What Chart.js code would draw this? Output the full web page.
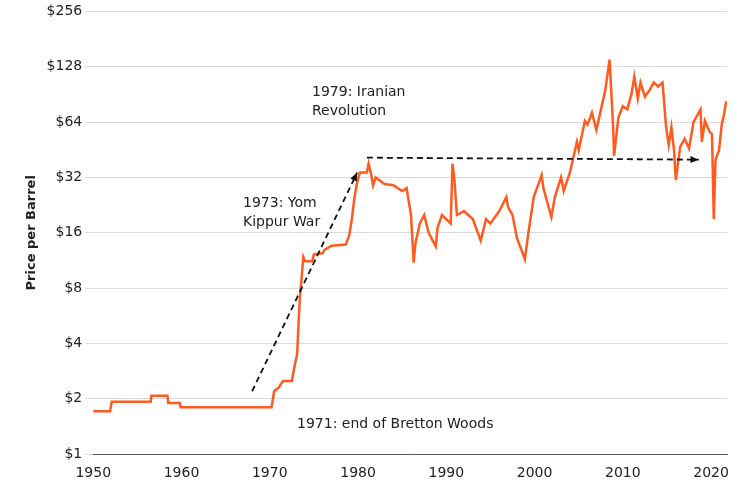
<!DOCTYPE html>
<html>
<head>
<meta charset="utf-8">
<script src="https://cdn.jsdelivr.net/npm/chart.js@4"></script>
<style>
  html, body { margin: 0; padding: 0; background: #fff; }
  #wrap { width: 741px; height: 489px; }
</style>
</head>
<body>
<div id="wrap"><canvas id="oilChart"></canvas></div>
<script>
// oil price per barrel (year, dollars)
const years = [1950,1951.9,1952.1,1956.5,1956.6,1958.4,1958.5,1959.8,1959.9,1970.2,1970.5,1971,1971.5,1972.5,1972.8,1973.1,1973.25,1973.4,1973.6,1973.8,1974,1974.8,1975,1976,1976.2,1977,1978.6,1979,1979.3,1979.6,1979.9,1980.2,1981,1981.2,1981.5,1981.7,1982,1983,1984,1985,1985.5,1986,1986.3,1986.5,1987,1987.5,1988,1988.8,1989,1989.5,1990.5,1990.7,1990.9,1991.2,1992,1993,1993.9,1994.5,1995,1996,1996.8,1997,1997.5,1998,1998.9,1999.3,1999.9,2000.5,2000.8,2001,2001.9,2002.3,2003,2003.3,2004,2004.8,2005,2005.7,2006,2006.5,2007,2007.5,2008,2008.5,2008.9,2009,2009.5,2010,2010.5,2011,2011.3,2011.7,2012,2012.5,2013,2013.5,2014,2014.5,2014.9,2015.2,2015.5,2015.8,2016,2016.5,2017,2017.5,2018,2018.8,2018.95,2019.3,2019.8,2020.1,2020.3,2020.5,2020.9,2021.2,2021.5,2021.7];
const prices = [1.71,1.71,1.93,1.93,2.08,2.08,1.9,1.9,1.8,1.8,2.2,2.3,2.5,2.5,3.0,3.5,5,7,9,11.8,11.2,11.2,12.2,12.4,12.9,13.6,13.8,15.5,19,25,30,34,34,38,33,29,32,29.5,29,27,28,20,11,14,18,20,16,13.5,17,20,18,38,32,20,21,19,14.5,19,18,21,25,22,20,15,11.5,16,25,30,33,28,19.5,25,32,27,34,50,45,65,62,72,58,74,95,140,60,42,68,78,75,92,113,86,105,88,95,105,100,105,60,48,60,45,31,47,52,46,64,75,50,65,57,55,19,40,45,62,72,83];
const yTicks = [0,1,2,3,4,5,6,7,8];
const xTicks = [1950,1960,1970,1980,1990,2000,2010,2020];

const notes = [
  { lines: ['1979: Iranian', 'Revolution'], x: 312, y: 92 },
  { lines: ['1973: Yom', 'Kippur War'], x: 243, y: 203 },
  { lines: ['1971: end of Bretton Woods'], x: 297, y: 424 }
];
// arrows in data units: [year, price] -> [year, price]
const arrows = [
  [[1968, 2.2], [1979.9, 34]],
  [[1981, 41], [2018.6, 40]]
];

const points = years.map((y, i) => ({ x: y, y: Math.log2(prices[i]) }));

const annotate = {
  id: 'annotate',
  afterDatasetsDraw(chart) {
    const { ctx, scales: { x, y } } = chart;
    ctx.save();
    ctx.fillStyle = '#222';
    ctx.font = '14px "DejaVu Sans"';
    ctx.textBaseline = 'middle';
    notes.forEach(n => n.lines.forEach((t, i) => ctx.fillText(t, n.x, n.y + i * 19)));
    ctx.strokeStyle = '#111';
    ctx.lineWidth = 1.8;
    arrows.forEach(a => {
      const x0 = x.getPixelForValue(a[0][0]), y0 = y.getPixelForValue(Math.log2(a[0][1]));
      const x1 = x.getPixelForValue(a[1][0]), y1 = y.getPixelForValue(Math.log2(a[1][1]));
      ctx.setLineDash([6, 4]);
      ctx.beginPath(); ctx.moveTo(x0, y0); ctx.lineTo(x1, y1); ctx.stroke();
      ctx.setLineDash([]);
      const ang = Math.atan2(y1 - y0, x1 - x0);
      ctx.beginPath();
      ctx.moveTo(x1, y1);
      ctx.lineTo(x1 - 9 * Math.cos(ang - 0.4), y1 - 9 * Math.sin(ang - 0.4));
      ctx.lineTo(x1 - 9 * Math.cos(ang + 0.4), y1 - 9 * Math.sin(ang + 0.4));
      ctx.closePath();
      ctx.fillStyle = '#111';
      ctx.fill();
    });
    ctx.restore();
  }
};

Chart.defaults.font.family = '"DejaVu Sans"';
Chart.defaults.color = '#222';

new Chart(document.getElementById('oilChart'), {
  type: 'line',
  data: {
    datasets: [{
      data: points,
      borderColor: '#ff5a1f',
      borderWidth: 2.5,
      pointRadius: 0,
      tension: 0
    }]
  },
  options: {
    responsive: true,
    maintainAspectRatio: false,
    animation: false,
    layout: { padding: { top: 10, right: 14, left: 20, bottom: 4 } },
    plugins: { legend: { display: false }, tooltip: { enabled: false } },
    scales: {
      x: {
        type: 'linear', min: 1950, max: 2021.8,
        afterBuildTicks: s => { s.ticks = xTicks.map(v => ({ value: v })); },
        ticks: { font: { size: 14 }, callback: v => String(v) },
        grid: { display: false },
        border: { color: '#555' }
      },
      y: {
        min: 0, max: 8,
        afterBuildTicks: s => { s.ticks = yTicks.map(v => ({ value: v })); },
        ticks: { font: { size: 14 }, callback: v => '$' + Math.pow(2, v) },
        grid: { color: '#d9d9d9' },
        border: { display: false },
        title: { display: true, text: 'Price per Barrel', font: { size: 13, weight: 'bold' } }
      }
    }
  },
  plugins: [annotate]
});
</script>
</body>
</html>
